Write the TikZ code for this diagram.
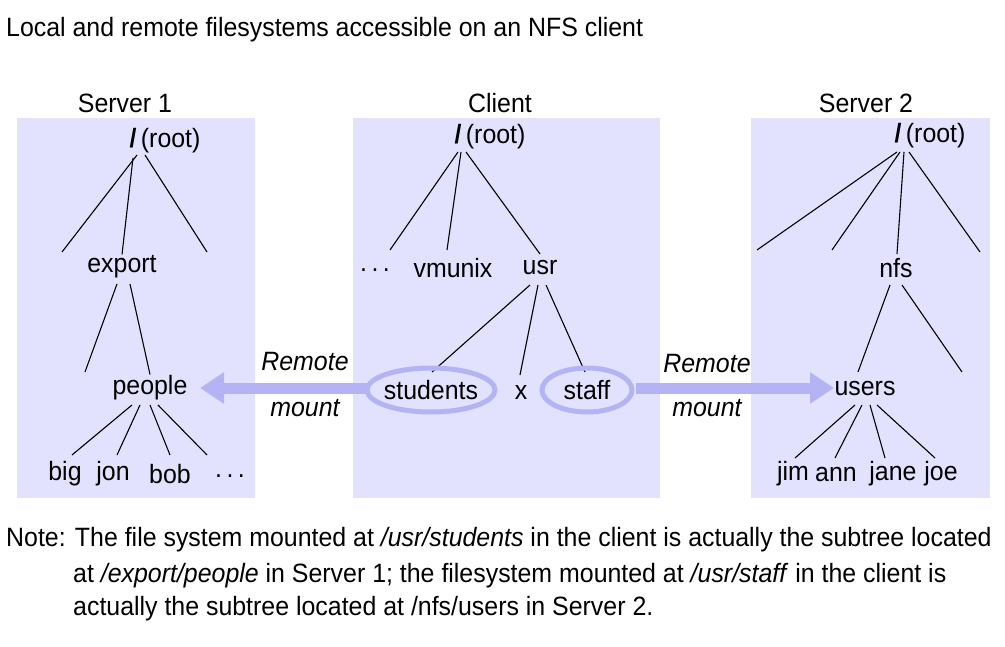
\documentclass[tikz,border=0pt]{standalone}
\usepackage{fontspec}
\setmainfont{Liberation Sans}[FakeStretch=0.94]
\usetikzlibrary{arrows.meta}
\definecolor{panel}{HTML}{E2E2FF}
\definecolor{mnt}{HTML}{B4B4F4}
\begin{document}
\begin{tikzpicture}[x=1pt,y=-1pt,
  t/.style={font=\fontsize{26.5}{30}\selectfont,inner sep=1pt},
  ti/.style={font=\fontsize{26.5}{30}\selectfont\itshape,inner sep=1pt},
  ln/.style={line width=1.1pt},
  pn/.style={fill=panel,draw=none}]
\useasboundingbox (0,0) rectangle (1005,647);
\node[t,anchor=west] (title) at (5,30) {Local and remote filesystems accessible on an NFS client};
\fill[pn] (17,118) rectangle (255,498);
\fill[pn] (353,118) rectangle (660,498);
\fill[pn] (751,118) rectangle (990,498);
\node[t] (s1) at (125,103) {Server 1};
\node[t] (cl) at (500,103) {Client};
\node[t] (s2) at (866,103) {Server 2};
% Server 1
\node[t] (r1) at (165,141) {\textbf{/}\,(root)};
\node[t] (exp) at (122,267) {export};
\node[t] (ppl) at (150,388) {people};
\node[t] (big) at (65,474) {big};
\node[t] (jon) at (113,474) {jon};
\node[t] (bob) at (170,474) {bob};
\node[t] (d1) at (230,476) {.\,.\,.};
\coordinate (a1) at (62,252); \coordinate (a2) at (207,252); \coordinate (a3) at (85,372);
\draw[ln] (137,155)--(a1);
\draw[ln] (133,158)--(exp.north);
\draw[ln] (145,155)--(a2);
\draw[ln] (117,284)--(a3);
\draw[ln] (130,284)--(ppl.north);
\draw[ln] (132,405)--(72,455) (140,405)--(117,455) (150,405)--(170,455) (158,405)--(207,455);
% Client
\node[t] (r2) at (490,137) {\textbf{/}\,(root)};
\node[t] (dd) at (375,270) {.\,.\,.};
\node[t] (vm) at (453,268) {vmunix};
\node[t] (usr) at (540,268) {usr};
\node[t] (stu) at (431,390) {students};
\node[t] (x) at (521,392) {x};
\node[t] (stf) at (587,390) {staff};
\draw[ln] (458,152)--(390,250) (461,152)--(447,250) (466,152)--(540,254);
\draw[ln] (530,285)--(432,372) (538,285)--(520,375) (546,285)--(585,372);
\draw[mnt,line width=5pt] (stu) ellipse (64 and 22);
\draw[mnt,line width=5pt] (stf) ellipse (45 and 22);
% Server 2
\node[t] (r3) at (930,136) {\textbf{/}\,(root)};
\node[t] (nfs) at (896,268) {nfs};
\node[t] (us) at (865,388) {users};
\node[t] (jim) at (793,474) {jim};
\node[t] (ann) at (836,474) {ann};
\node[t] (jan) at (893,474) {jane};
\node[t] (joe) at (941,474) {joe};
\draw[ln] (897,152)--(757,250) (900,152)--(832,250) (904,152)--(897,254) (909,152)--(980,252);
\draw[ln] (890,285)--(858,372) (902,285)--(962,372);
\draw[ln] (855,405)--(795,458) (862,405)--(835,458) (870,405)--(885,458) (877,405)--(935,458);
% arrows
\coordinate (e1) at (200,388); \coordinate (e2) at (834,388);
\draw[mnt,line width=11pt,-{Triangle[length=24pt,width=30pt]}] (367,388)--(e1);
\draw[mnt,line width=11pt,-{Triangle[length=24pt,width=30pt]}] (636,388)--(e2);
\node[ti] (rm1) at (305,362) {Remote};
\node[ti] (mm1) at (305,408) {mount};
\node[ti] (rm2) at (707,364) {Remote};
\node[ti] (mm2) at (707,408) {mount};
% note
\node[t,anchor=west] (n1) at (5,540) {Note: The file system mounted at \textit{/usr/students} in the client is actually the subtree located};
\node[t,anchor=west] (n2) at (72,576) {at \textit{/export/people} in Server 1; the filesystem mounted at \textit{/usr/staff} in the client is};
\node[t,anchor=west] (n3) at (72,609) {actually the subtree located at /nfs/users in Server 2.};
\end{tikzpicture}
\end{document}
